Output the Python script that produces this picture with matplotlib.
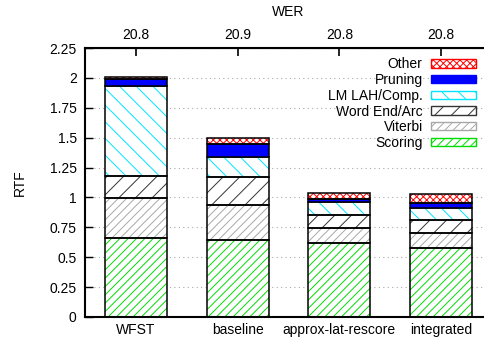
import matplotlib
matplotlib.use("Agg")

import matplotlib.pyplot as plt
from matplotlib.patches import Patch

# data (RTF per component, stacked)
systems = ["WFST", "baseline", "approx-lat-rescore", "integrated"]
wer = ["20.8", "20.9", "20.8", "20.8"]
components = ["Scoring", "Viterbi", "Word End/Arc", "LM LAH/Comp.", "Pruning", "Other"]
scoring = [0.66, 0.64, 0.615, 0.575]
viterbi = [0.335, 0.295, 0.13, 0.125]
word_end = [0.185, 0.24, 0.11, 0.115]
lm_lah = [0.75, 0.16, 0.11, 0.10]
pruning = [0.06, 0.11, 0.025, 0.035]
other = [0.02, 0.05, 0.045, 0.075]
y_ticks = [0, 0.25, 0.5, 0.75, 1, 1.25, 1.5, 1.75, 2, 2.25]

series = [scoring, viterbi, word_end, lm_lah, pruning, other]
colors = ["#00dd00", "#a8a8a8", "#333333", "#00e5ff", "#0000ff", "#ff0000"]
hatches = ["////", "////", "//", "\\\\", None, "xxxxx"]

plt.rcParams["font.family"] = ["Liberation Sans", "DejaVu Sans"]
plt.rcParams["font.size"] = 10
plt.rcParams["hatch.linewidth"] = 0.7

fig = plt.figure(figsize=(4.84, 3.39), dpi=100)
ax = fig.add_axes([85 / 484, 22 / 339, 407 / 484, 269 / 339])

x = list(range(len(systems)))
width = 0.61
bottom = [0.0] * len(systems)
for vals, col, hat in zip(series, colors, hatches):
    if hat is None:
        ax.bar(x, vals, width, bottom=bottom, color=col, edgecolor="black",
               linewidth=1.1, zorder=3)
    else:
        ax.bar(x, vals, width, bottom=bottom, facecolor="white", edgecolor=col,
               hatch=hat, linewidth=0, zorder=2)
        ax.bar(x, vals, width, bottom=bottom, fill=False, edgecolor="black",
               linewidth=1.1, zorder=3)
    bottom = [b + v for b, v in zip(bottom, vals)]

ax.set_xlim(-0.5, 3.5)
ax.set_ylim(0, 2.25)
ax.set_yticks(y_ticks)
ax.set_yticklabels([f"{t:g}" for t in y_ticks])
ax.set_xticks(x)
ax.set_xticklabels(systems)
ax.tick_params(axis="y", direction="in", length=6, width=1, right=True, pad=6)
ax.tick_params(axis="x", direction="in", length=0, pad=4)
ax.yaxis.grid(True, color="#aaaaaa", linestyle=(0, (1, 3)), linewidth=0.8, zorder=0)
ax.set_axisbelow(True)
for s in ax.spines.values():
    s.set_linewidth(1.5)
ax.set_ylabel("RTF", labelpad=16)

top = ax.secondary_xaxis("top")
top.set_xticks(x)
top.set_xticklabels(wer)
top.tick_params(direction="in", length=6, width=1.2, pad=4)
top.set_xlabel("WER", labelpad=9)

handles = []
for name, col, hat in zip(components, colors, hatches):
    if hat is None:
        handles.append(Patch(facecolor=col, edgecolor=col, label=name))
    else:
        handles.append(Patch(facecolor="white", edgecolor=col, hatch=hat, label=name))
leg = ax.legend(handles[::-1], components[::-1], loc="upper right",
                frameon=False, markerfirst=False, handlelength=3.2, handleheight=0.55,
                labelspacing=0.12, handletextpad=0.6, borderpad=0.4)
leg.set_bbox_to_anchor((488 / 484, (339 - 45) / 339), transform=fig.transFigure)

fig.savefig("out.png", dpi=100)
